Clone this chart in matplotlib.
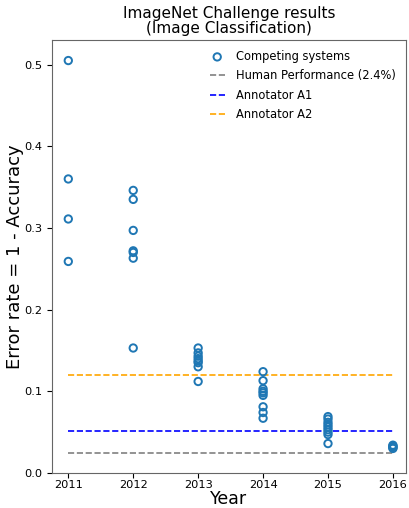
import matplotlib
matplotlib.use("Agg")
import matplotlib.pyplot as plt

# error rates, grouped by year
years = [2011, 2012, 2013, 2014, 2015, 2016]
errors = {
    2011: [0.505, 0.360, 0.311, 0.259],
    2012: [0.346, 0.335, 0.297, 0.272, 0.270, 0.263, 0.153],
    2013: [0.153, 0.147, 0.143, 0.140, 0.137, 0.135, 0.130, 0.112],
    2014: [0.124, 0.113, 0.103, 0.100, 0.098, 0.095, 0.081, 0.074, 0.067],
    2015: [0.069, 0.066, 0.062, 0.059, 0.056, 0.053, 0.050, 0.047, 0.036],
    2016: [0.030, 0.031, 0.032, 0.033, 0.034],
}
human = 0.024
annotator_a1 = 0.051
annotator_a2 = 0.120

xs, ys = [], []
for y in years:
    for e in errors[y]:
        xs.append(y)
        ys.append(e)

fig, ax = plt.subplots(figsize=(4.1, 5.08), dpi=100)
ax.scatter(xs, ys, facecolors="none", edgecolors="tab:blue", s=28,
           linewidths=1.4, label="Competing systems", zorder=3)
ax.plot([years[0], years[-1]], [human, human], "--", color="gray",
        lw=1.2, label="Human Performance (2.4%)")
ax.plot([years[0], years[-1]], [annotator_a1, annotator_a1], "--", color="blue",
        lw=1.2, label="Annotator A1")
ax.plot([years[0], years[-1]], [annotator_a2, annotator_a2], "--", color="orange",
        lw=1.2, label="Annotator A2")

ax.set_ylim(0, 0.53)
ax.set_xlim(2010.75, 2016.2)
ax.set_xticks(years)
ax.tick_params(labelsize=8.2)
ax.tick_params(axis="x", pad=1.5)
ax.set_title("ImageNet Challenge results\n(Image Classification)", fontsize=11,
             linespacing=1.0, pad=5)
ax.set_xlabel("Year", fontsize=12.5, labelpad=0)
ax.set_ylabel("Error rate = 1 - Accuracy", fontsize=13, labelpad=0)
ax.legend(frameon=False, fontsize=8.3, loc="upper right", handlelength=1.3,
          handletextpad=1.0, labelspacing=0.55, borderaxespad=0.45)
for s in ax.spines.values():
    s.set_color("#666666")

fig.subplots_adjust(left=0.127, right=0.99, top=0.921, bottom=0.069)
fig.savefig("out.png", dpi=100)
